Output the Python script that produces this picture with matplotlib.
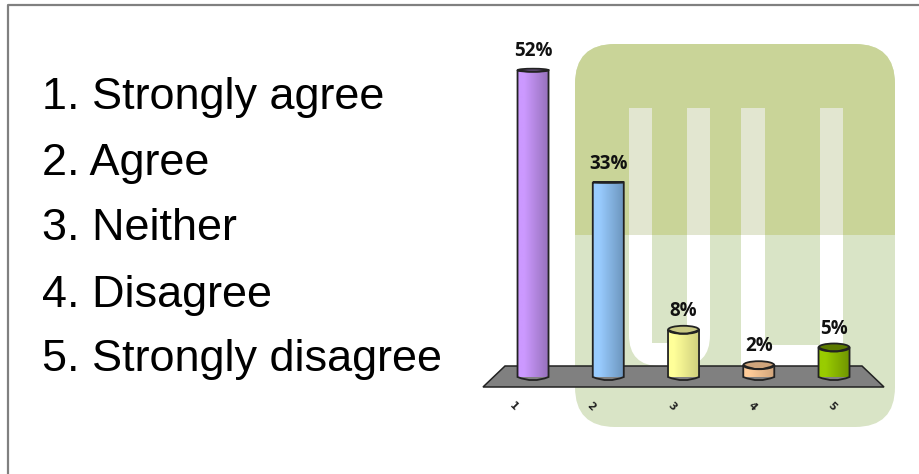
import numpy as np
import matplotlib
matplotlib.use("Agg")
import matplotlib.pyplot as plt
from matplotlib.patches import FancyBboxPatch, PathPatch, Polygon, Rectangle, Ellipse
from matplotlib.path import Path

# data
legend_lines = ["1. Strongly agree", "2. Agree", "3. Neither", "4. Disagree", "5. Strongly disagree"]
categories = ["1", "2", "3", "4", "5"]
percent = [52, 33, 8, 2, 5]
percent_labels = ["52%", "33%", "8%", "2%", "5%"]

# look of the cylinders
light_cols = ["#cc99ff", "#99ccff", "#ffff99", "#ffcc99", "#99cc00"]
dark_cols = ["#9570ba", "#6c95bd", "#d0d07e", "#d2a67c", "#6f9400"]
top_cols = ["#7d5f9c", "#5a7da0", "#c9c984", "#d0a57c", "#5c7a00"]
top_squash = [1.5, 0.4, 4, 4, 4]
bar_px = 31
px_per_pct = 5.9

fig = plt.figure(figsize=(9.2, 4.74), dpi=100)

# background in pixel coords
bg = fig.add_axes([0, 0, 1, 1])
bg.set_xlim(0, 920)
bg.set_ylim(474, 0)
bg.axis("off")

bg.plot([8.5, 8.5, 920], [474, 4.5, 4.5], color="#808080", lw=1.6)

# rounded green plate with the faded logo
plate = FancyBboxPatch((615, 84), 240, 303, boxstyle="round,pad=40,rounding_size=40",
                       fc="#d9e4c6", ec="none", zorder=1)
bg.add_patch(plate)
upper = Rectangle((570, 40), 330, 195, fc="#c9d498", ec="none", zorder=2)
bg.add_patch(upper)
upper.set_clip_path(plate)

for x0, x1 in [(629, 652), (687, 710), (741, 765), (820, 843)]:
    bg.add_patch(Rectangle((x0, 108), x1 - x0, 127, fc="#e2e6d0", ec="none", zorder=3))

# left U, rounded at the bottom
u_verts = [(629, 235), (629, 335), (629, 366), (660, 366), (680, 366), (710, 366), (710, 335),
           (710, 235), (687, 235), (687, 343), (652, 343), (652, 235), (629, 235)]
u_codes = [Path.MOVETO, Path.LINETO, Path.CURVE3, Path.CURVE3, Path.LINETO, Path.CURVE3, Path.CURVE3,
           Path.LINETO, Path.LINETO, Path.LINETO, Path.LINETO, Path.LINETO, Path.CLOSEPOLY]
bg.add_patch(PathPatch(Path(u_verts, u_codes), fc="white", ec="none", zorder=3))
# right U
bg.add_patch(Polygon([(741, 235), (741, 366), (843, 366), (843, 235), (820, 235), (820, 345), (765, 345), (765, 235)],
                     closed=True, fc="white", ec="none", zorder=3))

# floor of the chart
bg.add_patch(Polygon([(505, 366), (862, 366), (884, 387), (483, 387)], closed=True,
                     fc="#808080", ec="#222222", lw=1.1, zorder=4))

# question list
for line, y in zip(legend_lines, [97, 163, 228, 295, 360]):
    bg.text(42, y, line, fontsize=32.4, family="Liberation Sans", va="center", ha="left", color="black", zorder=5)

# small rotated axis labels
for lab, x in zip(categories, [513, 591, 672, 752, 832]):
    bg.text(x, 406, lab, fontsize=7.5, fontweight="bold", family="DejaVu Sans", rotation=-45,
            ha="center", va="center", color="#222222", zorder=5)

# bars, in data coords
ax = fig.add_axes([(533 - 37.6) / 920, (474 - 377) / 474, 75.25 * 5 / 920, 354 / 474])
ax.patch.set_alpha(0)
ax.set_xlim(-0.5, 4.5)
ax.set_ylim(0, 354 / px_per_pct)
ax.axis("off")

half_w = bar_px / 2 / 75.25
bulge = 3.2 / px_per_pct

for i, v in enumerate(percent):
    left, right = i - half_w, i + half_w
    verts = [(left, v), (left, 0), (i, -2 * bulge), (right, 0), (right, v),
             (i, v - 2 * top_squash[i] / px_per_pct), (left, v)]
    codes = [Path.MOVETO, Path.LINETO, Path.CURVE3, Path.CURVE3, Path.LINETO, Path.CURVE3, Path.CURVE3]
    body = PathPatch(Path(verts, codes), fc="none", ec="none", zorder=6)
    ax.add_patch(body)

    # left to right shading, lightest just off the left edge
    c0 = np.array(matplotlib.colors.to_rgb(light_cols[i]))
    c1 = np.array(matplotlib.colors.to_rgb(dark_cols[i]))
    t = np.clip((np.linspace(0, 1, 64) - 0.2) / 0.8, 0, 1)[None, :, None]
    grad = c0 * (1 - t) + c1 * t
    im = ax.imshow(grad, extent=[left, right, -2, v + 1], aspect="auto", zorder=6, interpolation="bilinear")
    im.set_clip_path(body)

    ax.add_patch(Ellipse((i, v), 2 * half_w, 2 * top_squash[i] / px_per_pct, fc=top_cols[i], ec="#222222",
                         lw=1.3, zorder=7))
    ax.add_patch(PathPatch(Path(verts, codes), fc="none", ec="#222222", lw=1.3, zorder=8, clip_on=False))
    ax.annotate(percent_labels[i], (i, v), xytext=(0, 13.5), textcoords="offset points", ha="center", va="center",
                fontsize=13.5, fontweight="bold", family="Open Sans", color="#111111", zorder=9,
                annotation_clip=False)

ax.set_xlim(-0.5, 4.5)
ax.set_ylim(0, 354 / px_per_pct)

fig.savefig("out.png", dpi=100)
